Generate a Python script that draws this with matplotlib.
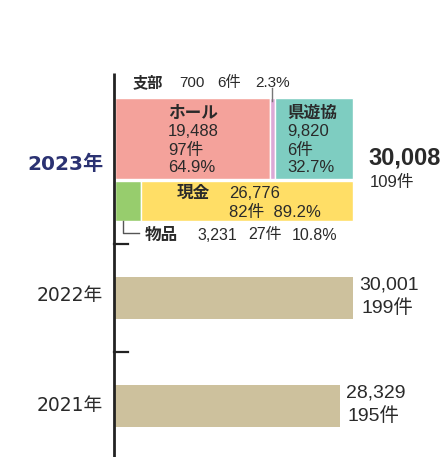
import matplotlib.pyplot as plt

plt.rcParams['font.family'] = ['Liberation Sans', 'Noto Sans CJK JP', 'DejaVu Sans']

# data
years = ["2023年", "2022年", "2021年"]
totals = [30008, 30001, 28329]
counts = [109, 199, 195]

top_names = ["ホール", "支部", "県遊協"]
top_values = [19488, 700, 9820]
top_counts = [97, 6, 6]
top_pct = [64.9, 2.3, 32.7]

bottom_names = ["物品", "現金"]
bottom_values = [3231, 26776]
bottom_counts = [27, 82]
bottom_pct = [10.8, 89.2]

top_colors = ["#F4A29B", "#DCA9D6", "#7ECDC1"]
bottom_colors = ["#97CD6D", "#FFDE66"]
past_color = "#CDC19D"
text_c = "#2a2a2a"

# layout: pixel based
W, H = 446, 457
X0 = 115          # pixel where value 0 sits
K = 126.0         # value per pixel


def px(x):
    return (x - X0) * K


fig = plt.figure(figsize=(W / 100, H / 100), dpi=100)
ax = fig.add_axes([0, 0, 1, 1])
ax.set_xlim(px(0), px(W))
ax.set_ylim(H, 0)
ax.axis("off")

# 2023 stacked bars (two rows)
top_y, top_h = 138.5, 81
bot_y, bot_h = 201, 40
left = 0
top_left = []
for v, c in zip(top_values, top_colors):
    ax.barh(top_y, v, height=top_h, left=left, color=c, edgecolor="white", linewidth=1)
    top_left.append(left)
    left += v
left = 0
bot_left = []
for v, c in zip(bottom_values, bottom_colors):
    ax.barh(bot_y, v, height=bot_h, left=left, color=c, edgecolor="white", linewidth=1)
    bot_left.append(left)
    left += v

# past years
past_y = [298, 406]
for y, v in zip(past_y, totals[1:]):
    ax.barh(y, v, height=42, left=0, color=past_color, edgecolor="none")

# axis line and ticks
ax.plot([px(114), px(114)], [73, H], color="#222222", lw=2.0, solid_capstyle="butt")
for ty in [244, 352]:
    ax.plot([px(114), px(128)], [ty, ty], color="#222222", lw=1.6)

# ホール label
x_h = top_left[0]
ax.text(x_h + 78 * K, 113, top_names[0], ha="center", va="center",
        fontsize=12, fontweight="bold", color=text_c)
lines = [f"{top_values[0]:,}", f"{top_counts[0]}件", f"{top_pct[0]}%"]
for i, s in enumerate(lines):
    ax.text(x_h + 53 * K, 132 + i * 18, s, ha="left", va="center",
            fontsize=12, color=text_c)

# 県遊協 label
x_k = top_left[2]
ax.text(x_k + 12 * K, 113, top_names[2], ha="left", va="center",
        fontsize=12, fontweight="bold", color=text_c)
lines = [f"{top_values[2]:,}", f"{top_counts[2]}件", f"{top_pct[2]}%"]
for i, s in enumerate(lines):
    ax.text(x_k + 12 * K, 132 + i * 18, s, ha="left", va="center",
            fontsize=12, color=text_c)

# 支部 label with leader
x_s = top_left[1] + top_values[1] / 2
ax.plot([x_s, x_s], [88, 101], color="#777777", lw=1)
ax.text(px(133), 83, top_names[1], ha="left", va="center",
        fontsize=11, fontweight="bold", color=text_c)
for xp, s in zip([179, 217, 255],
                 [f"{top_values[1]}", f"{top_counts[1]}件", f"{top_pct[1]}%"]):
    ax.text(px(xp), 83, s, ha="left", va="center", fontsize=11, color=text_c)

# 現金 label
x_g = bot_left[1]
ax.text(x_g + 36 * K, 193, bottom_names[1], ha="left", va="center",
        fontsize=12, fontweight="bold", color=text_c)
ax.text(x_g + 88 * K, 193, f"{bottom_values[1]:,}", ha="left", va="center",
        fontsize=12, color=text_c)
ax.text(x_g + 88 * K, 212, f"{bottom_counts[1]}件  {bottom_pct[1]}%",
        ha="left", va="center", fontsize=12, color=text_c)

# 物品 label with leader
x_b = px(123)
ax.plot([x_b, x_b, px(139)], [221, 233, 233], color="#555555", lw=1)
ax.text(px(145), 235, bottom_names[0], ha="left", va="center",
        fontsize=12, fontweight="bold", color=text_c)
for xp, s in zip([197, 248, 292],
                 [f"{bottom_values[0]:,}", f"{bottom_counts[0]}件", f"{bottom_pct[0]}%"]):
    ax.text(px(xp), 235, s, ha="left", va="center", fontsize=11.5, color=text_c)

# year labels
ax.text(px(103), 164, years[0], ha="right", va="center", fontsize=14.5,
        fontweight="bold", color="#2B3272", family=["DejaVu Sans", "Noto Sans CJK JP"])
for y, lab in zip([296, 406], years[1:]):
    ax.text(px(103), y, lab, ha="right", va="center", fontsize=13.5,
            color=text_c, family=["DejaVu Sans", "Noto Sans CJK JP"])

# totals
ax.text(totals[0] + 15 * K, 158, f"{totals[0]:,}", ha="left", va="center",
        fontsize=17, fontweight="bold", color=text_c)
ax.text(totals[0] + 17 * K, 182, f"{counts[0]}件", ha="left", va="center",
        fontsize=12, color=text_c)
for y, v, n in zip(past_y, totals[1:], counts[1:]):
    ax.text(v + 6 * K, y - 13, f"{v:,}", ha="left", va="center",
            fontsize=14, color=text_c)
    ax.text(v + 8 * K, y + 10, f"{n}件", ha="left", va="center",
            fontsize=14, color=text_c)

fig.savefig("out.png", dpi=100)
